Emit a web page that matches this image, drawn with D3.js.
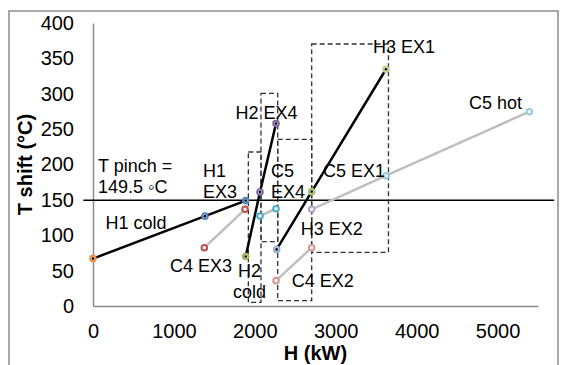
<!DOCTYPE html>
<html>
<head>
<meta charset="utf-8">
<script src="https://cdn.jsdelivr.net/npm/d3@7"></script>
<style>
  body { margin: 0; background: #fff; }
  svg { font-family: "Liberation Sans", Arial, sans-serif; }
</style>
</head>
<body>
<svg width="567" height="365"></svg>
<script>
// Axis ticks
const xTicks = [0, 1000, 2000, 3000, 4000, 5000];
const yTicks = [0, 50, 100, 150, 200, 250, 300, 350, 400];

// Pinch temperature (°C)
const tPinch = 149.5;

// Hot streams (black lines): [H, T shift]
const h1 = [[0, 67], [1384, 127], [1887, 149]];
const h2 = [[1887, 70], [2064, 161], [2262, 258]];
const h3 = [[2270, 80], [2703, 161.6], [3621, 334.6]];

// Cold streams (gray lines)
const c4ex3 = [[1376, 82.4], [1879, 136.7]];
const c5ex4 = [[2064, 127.2], [2262, 137.5]];
const c4ex2 = [[2262, 35.8], [2703, 82.4]];
const c5 = [[2703, 136.7], [3621, 184.2], [5393, 274.6]];

// Marker colours, one per point of each stream
const h1Colors = ["#F08A3C", "#4F81BD", "#4F81BD"];
const h2Colors = ["#9BBB59", "#8064A2", "#8064A2"];
const h3Colors = ["#95B3D7", "#A9C46E", "#B9D08E"];
const c4ex3Colors = ["#C0504D", "#C0504D"];
const c5ex4Colors = ["#4BACC6", "#4BACC6"];
const c4ex2Colors = ["#D99694", "#D99694"];
const c5Colors = ["#B3A2C7", "#93CDDD", "#93CDDD"];

// Exchanger boxes: [H from, H to, T from, T to]
const boxes = [
  [1920, 2076, 5, 217.7],
  [2076, 2283, 90.9, 300.6],
  [2283, 2703, 7.5, 235.6],
  [2703, 3652, 75.9, 370.3]
];

// Stream labels: lines of text and where they sit (H, T of first baseline)
const labels = [
  { lines: ["T pinch =", "149.5 \u25E6C"], h: 62, t: 189.4, anchor: "start" },
  { lines: ["H1 cold"], h: 531, t: 108.8, anchor: "middle" },
  { lines: ["H1", "EX3"], h: 1360, t: 182.3, anchor: "start" },
  { lines: ["C4 EX3"], h: 1718, t: 48.5, anchor: "end" },
  { lines: ["H2", "cold"], h: 1934, t: 41, anchor: "middle" },
  { lines: ["H2 EX4"], h: 2144, t: 264.3, anchor: "middle" },
  { lines: ["C5", "EX4"], h: 2200, t: 182.3, anchor: "start" },
  { lines: ["C5 EX1"], h: 2843, t: 182.3, anchor: "start" },
  { lines: ["H3 EX1"], h: 3461, t: 357.6, anchor: "start" },
  { lines: ["C5 hot"], h: 4647, t: 278.4, anchor: "start" },
  { lines: ["H3 EX2"], h: 2567, t: 100.4, anchor: "start" },
  { lines: ["C4 EX2"], h: 2456, t: 26.9, anchor: "start" }
];

let svg = d3.select("svg");

let x = d3.scaleLinear().domain([0, 5500]).range([93, 538]);
let y = d3.scaleLinear().domain([0, 400]).range([306, 23]);

// chart border
svg.append("rect")
  .attr("x", 9).attr("y", 11)
  .attr("width", 549).attr("height", 370)
  .attr("fill", "none")
  .attr("stroke", "#8c8c8c")
  .attr("stroke-width", 1.5);

// axes
let xAxis = svg.append("g")
  .attr("transform", `translate(0,${y(0)})`)
  .call(d3.axisBottom(x).tickValues(xTicks).tickFormat(d3.format("d")).tickSize(0).tickPadding(18));
let yAxis = svg.append("g")
  .attr("transform", `translate(${x(0)},0)`)
  .call(d3.axisLeft(y).tickValues(yTicks).tickSize(0).tickPadding(19));

[xAxis, yAxis].forEach(g => {
  g.select(".domain").attr("stroke", "#8c8c8c").attr("stroke-width", 1.5);
  g.selectAll("text")
    .attr("font-size", 20)
    .attr("font-family", "Liberation Sans, Arial, sans-serif")
    .attr("fill", "#000");
});

// axis titles
svg.append("text")
  .attr("x", (x.range()[0] + x.range()[1]) / 2)
  .attr("y", 360)
  .attr("text-anchor", "middle")
  .attr("font-size", 20)
  .attr("font-weight", "bold")
  .text("H (kW)");

svg.append("text")
  .attr("transform", `translate(32,${(y.range()[0] + y.range()[1]) / 2}) rotate(-90)`)
  .attr("text-anchor", "middle")
  .attr("font-size", 20)
  .attr("font-weight", "bold")
  .text("T shift (\u00B0C)");

// pinch line
svg.append("line")
  .attr("x1", x(-120)).attr("x2", x(5700))
  .attr("y1", y(tPinch)).attr("y2", y(tPinch))
  .attr("stroke", "#000")
  .attr("stroke-width", 1.5);

// exchanger boxes
svg.selectAll(".box")
  .data(boxes)
  .enter().append("rect")
    .attr("class", "box")
    .attr("x", d => x(d[0]))
    .attr("y", d => y(d[3]))
    .attr("width", d => x(d[1]) - x(d[0]))
    .attr("height", d => y(d[2]) - y(d[3]))
    .attr("fill", "none")
    .attr("stroke", "#333")
    .attr("stroke-width", 1.3)
    .attr("stroke-dasharray", "5,3");

let line = d3.line().x(d => x(d[0])).y(d => y(d[1]));

let streams = [
  { pts: c4ex3, colors: c4ex3Colors, hot: false },
  { pts: c5ex4, colors: c5ex4Colors, hot: false },
  { pts: c4ex2, colors: c4ex2Colors, hot: false },
  { pts: c5, colors: c5Colors, hot: false },
  { pts: h1, colors: h1Colors, hot: true },
  { pts: h2, colors: h2Colors, hot: true },
  { pts: h3, colors: h3Colors, hot: true }
];

streams.forEach(s => {
  svg.append("path")
    .attr("d", line(s.pts))
    .attr("fill", "none")
    .attr("stroke", s.hot ? "#000" : "#BFBFBF")
    .attr("stroke-width", 2.5);
});

streams.forEach(s => {
  let g = svg.append("g");
  g.selectAll("circle.m")
    .data(s.pts)
    .enter().append("circle")
      .attr("class", "m")
      .attr("cx", d => x(d[0]))
      .attr("cy", d => y(d[1]))
      .attr("r", 2.8)
      .attr("fill", "#f6f6f6")
      .attr("stroke", (d, i) => s.colors[i])
      .attr("stroke-width", 2);
  if (s.hot) {
    g.selectAll("circle.c")
      .data(s.pts)
      .enter().append("circle")
        .attr("class", "c")
        .attr("cx", d => x(d[0]))
        .attr("cy", d => y(d[1]))
        .attr("r", 1.3)
        .attr("fill", "#000");
  }
});

// labels
labels.forEach(l => {
  let t = svg.append("text")
    .attr("x", x(l.h))
    .attr("y", y(l.t))
    .attr("text-anchor", l.anchor)
    .attr("font-size", 18)
    .attr("fill", "#000");
  l.lines.forEach((s, i) => {
    t.append("tspan")
      .attr("x", x(l.h))
      .attr("dy", i === 0 ? 0 : 21)
      .text(s);
  });
});
</script>
</body>
</html>
